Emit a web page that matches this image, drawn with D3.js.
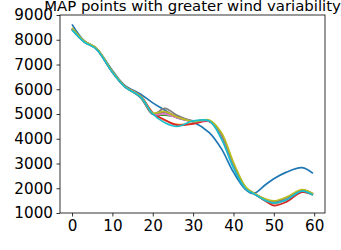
<!DOCTYPE html>
<html><head><meta charset="utf-8">
<script src="https://cdn.jsdelivr.net/npm/d3@7"></script>
<style>body{margin:0;background:#fff}svg{display:block}text{font-family:"DejaVu Sans",sans-serif}</style>
</head><body>
<script>
const title = "MAP points with greater wind variability";
const xs = [0, 3, 6, 10, 13, 17, 20, 23, 26, 30, 34, 37, 40, 43, 45, 48, 50, 53, 57, 59.7];
const colors = ["#1f77b4","#ff7f0e","#2ca02c","#d62728","#9467bd","#8c564b","#e377c2","#7f7f7f","#bcbd22","#17becf"];
const s0 = [8620, 7960, 7660, 6760, 6170, 5800, 5450, 5150, 4850, 4680, 4250, 3600, 2650, 1950, 1790, 2150, 2380, 2640, 2830, 2600];
const s1 = [8450, 7930, 7640, 6700, 6130, 5720, 5060, 4750, 4580, 4620, 4720, 4120, 2900, 2000, 1800, 1500, 1380, 1530, 1870, 1740];
const s2 = [8420, 7920, 7630, 6690, 6120, 5700, 5000, 4950, 4880, 4700, 4720, 4150, 2950, 2020, 1800, 1520, 1420, 1560, 1900, 1760];
const s3 = [8450, 7930, 7640, 6700, 6130, 5720, 5050, 4760, 4550, 4600, 4700, 4100, 2900, 1990, 1790, 1470, 1300, 1440, 1840, 1740];
const s4 = [8430, 7920, 7630, 6690, 6120, 5700, 5000, 5050, 4850, 4700, 4720, 4150, 2950, 2020, 1800, 1520, 1420, 1560, 1900, 1760];
const s5 = [8440, 7930, 7640, 6700, 6120, 5700, 5020, 5100, 4900, 4720, 4720, 4160, 2950, 2020, 1800, 1530, 1440, 1580, 1910, 1770];
const s6 = [8430, 7920, 7630, 6690, 6120, 5700, 5000, 5000, 4850, 4700, 4720, 4150, 2950, 2020, 1800, 1520, 1420, 1560, 1900, 1760];
const s7 = [8460, 7940, 7650, 6700, 6120, 5650, 4990, 5230, 4950, 4720, 4730, 4180, 2970, 2030, 1800, 1540, 1450, 1600, 1920, 1770];
const s8 = [8480, 7950, 7660, 6720, 6130, 5720, 5050, 5100, 4880, 4700, 4760, 4250, 3050, 2060, 1810, 1560, 1490, 1630, 1950, 1780];
const s9 = [8400, 7910, 7620, 6680, 6110, 5690, 5000, 4650, 4500, 4720, 4720, 4000, 2820, 1980, 1780, 1500, 1400, 1520, 1880, 1720];
const series = [s0, s1, s2, s3, s4, s5, s6, s7, s8, s9];
const yTicks = [1000, 2000, 3000, 4000, 5000, 6000, 7000, 8000, 9000];
const xTicks = [0, 10, 20, 30, 40, 50, 60];

const W = 341, H = 250;
const m = {l: 60, r: 16, t: 15, b: 37};
const svg = d3.select("body").append("svg").attr("width", W).attr("height", H);
const x = d3.scaleLinear().domain([-2.985, 62.685]).range([m.l, W - m.r]);
const y = d3.scaleLinear().domain([1000, 9000]).range([H - m.b, m.t]);

const line = d3.line().x((d, i) => x(xs[i])).y(d => y(d)).curve(d3.curveCatmullRom.alpha(0.5));
series.forEach((s, i) => {
  svg.append("path").attr("d", line(s)).attr("fill", "none")
    .attr("stroke", colors[i]).attr("stroke-width", 1.7).attr("stroke-linejoin", "round");
});

const fs = 15.2;
const gx = svg.append("g").attr("transform", `translate(0,${H - m.b})`)
  .call(d3.axisBottom(x).tickValues(xTicks).tickSize(3.5).tickPadding(3.5).tickFormat(d3.format("d")));
const gy = svg.append("g").attr("transform", `translate(${m.l},0)`)
  .call(d3.axisLeft(y).tickValues(yTicks).tickSize(3.5).tickPadding(3.5).tickFormat(d3.format("d")));
[gx, gy].forEach(g => {
  g.select(".domain").remove();
  g.selectAll("line").attr("stroke", "#000").attr("stroke-width", 0.8);
  g.selectAll("text").attr("font-size", fs).attr("fill", "#000").attr("font-family", "DejaVu Sans");
});
svg.append("rect").attr("x", m.l).attr("y", m.t).attr("width", W - m.r - m.l).attr("height", H - m.b - m.t)
  .attr("fill", "none").attr("stroke", "#000").attr("stroke-width", 0.8);
svg.append("text").attr("x", (m.l + W - m.r) / 2).attr("y", 10.5).attr("text-anchor", "middle")
  .attr("font-size", 14.9).attr("fill", "#000").text(title);
</script>
</body></html>
